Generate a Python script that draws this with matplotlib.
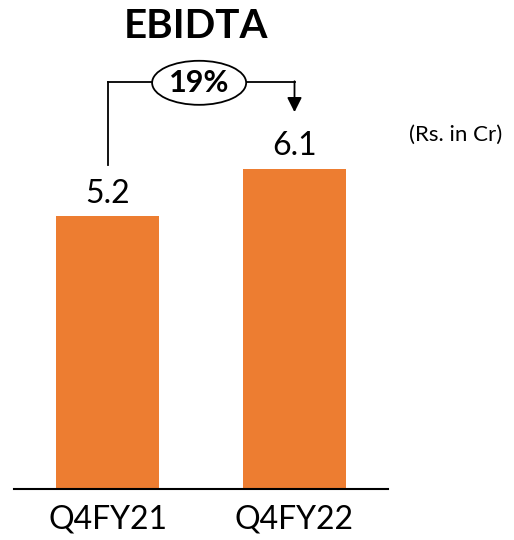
import matplotlib
matplotlib.use("Agg")
import matplotlib.pyplot as plt
from matplotlib.patches import Ellipse

# data
quarters = ["Q4FY21", "Q4FY22"]
ebitda = [5.2, 6.1]
growth_label = "19%"
title = "EBIDTA"
unit_note = "(Rs. in Cr)"

bar_color = "#ED7D31"
plt.rcParams['font.family'] = ['Lato', 'DejaVu Sans']

fig = plt.figure(figsize=(5.14, 5.40), dpi=100)
ax = fig.add_axes([14/514, 51/540, 374/514, 489/540])

x = list(range(len(quarters)))
ax.bar(x, ebitda, width=0.556, color=bar_color, zorder=2)
ax.set_xlim(-0.5, 1.5)
ax.set_ylim(0, 9.33)

# value labels
for xi, v in zip(x, ebitda):
    ax.text(xi, v + 0.15, f"{v:.1f}", ha="center", va="bottom", fontsize=23)

# axis styling
for s in ["top", "right", "left"]:
    ax.spines[s].set_visible(False)
ax.spines["bottom"].set_linewidth(1.5)
ax.set_yticks([])
ax.set_xticks(x)
ax.set_xticklabels(quarters, fontsize=23)
ax.tick_params(axis="x", length=0, pad=11)

# growth connector
top_y = max(ebitda) + 1.67
ax.plot([x[0], x[0]], [ebitda[0] + 0.98, top_y], color="black", lw=1.3, clip_on=False)
mid = (x[0] + x[1]) / 2 - 0.01
ax.plot([x[0], mid - 0.25], [top_y, top_y], color="black", lw=1.3, clip_on=False)
ax.plot([mid + 0.25, x[1]], [top_y, top_y], color="black", lw=1.3, clip_on=False)
ax.annotate("", xy=(x[1], ebitda[1] + 1.09), xytext=(x[1], top_y + 0.01),
            arrowprops=dict(arrowstyle="-|>", color="black", lw=1.3,
                            mutation_scale=22, shrinkA=0, shrinkB=0),
            annotation_clip=False)
ax.add_patch(Ellipse((mid, top_y - 0.02), 0.503, 0.84, facecolor="white",
                     edgecolor="black", lw=1.3, clip_on=False, zorder=3))
ax.text(mid, top_y - 0.02, growth_label, ha="center", va="center",
        fontsize=22, fontweight="bold", zorder=4)

fig.text(196/514, 1 - 26/540, title, ha="center", va="center",
         fontsize=29, fontweight="bold")
fig.text(456/514, 1 - 135/540, unit_note, ha="center", va="center", fontsize=16)

fig.savefig("out.png", dpi=100)
